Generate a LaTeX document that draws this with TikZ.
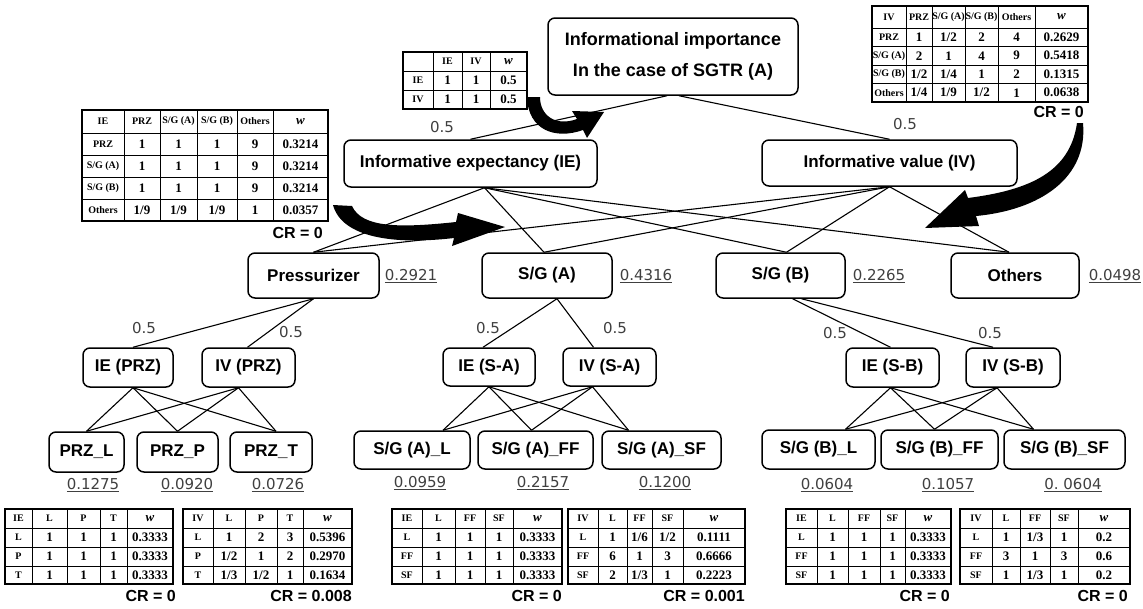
\documentclass[tikz,border=0pt]{standalone}
\usepackage{fontspec}
\newfontfamily\lsans{Liberation Sans}
\newfontfamily\lserif{Liberation Serif}
\newfontfamily\dvs{DejaVu Sans}
\newcommand\hd{\fontsize{10}{10}\selectfont}
\newcommand\trow[3]{\foreach \cx/\ct [count=\ck] in {#3} {\node[tcell] (#1-\ck) at (\cx,#2) {\ct};}}
\begin{document}
\begin{tikzpicture}[x=1pt,y=-1pt,
  box/.style 2 args={draw, line width=1.5pt, rounded corners=7pt, font=\lsans\bfseries\fontsize{17}{20}\selectfont, inner sep=0pt, align=center, minimum width=#1, minimum height=#2},
  edge/.style={line width=1.1pt},
  wt/.style={font=\dvs\fontsize{15}{15}\selectfont, text=black!75, inner sep=0pt},
  tcell/.style={font=\lserif\bfseries\fontsize{13}{13}\selectfont, inner sep=0pt},
  tin/.style={line width=0.8pt},
  tout/.style={line width=2.8pt},
  cr/.style={font=\lsans\bfseries\fontsize{16}{16}\selectfont, inner sep=0pt, anchor=east},
  blk/.style={fill=black}]
\useasboundingbox (0,0) rectangle (1143,608);
\fill[white] (0,0) rectangle (1143,608);

% ---------- curved arrows ----------
\fill[blk] (527,97) .. controls (528,130) and (555,140) .. (583,130) -- (587,138) -- (604,112) -- (572,111) -- (577,119) .. controls (555,127) and (540,115) .. (540,97) -- cycle;
\fill[blk] (333,205) .. controls (342,238) and (395,245) .. (454,238) -- (452,246) -- (505,227) -- (458,213) -- (456,222) .. controls (400,228) and (362,228) .. (352,206) -- cycle;
\fill[blk] (1077,123) -- (1083,123) .. controls (1088,178) and (1040,210) .. (976,216) -- (979,226) -- (925,228) -- (965,190) -- (968,198) .. controls (1030,190) and (1070,172) .. (1077,123) -- cycle;

% ---------- nodes ----------
\node[box={250pt}{77pt}, font=\lsans\bfseries\fontsize{18}{31}\selectfont] (root) at (673,56.5) {Informational importance\\In the case of SGTR (A)};
\node[box={253pt}{47pt}] (ie) at (470.5,163.5) {Informative expectancy (IE)};
\node[box={255pt}{46pt}] (iv) at (889.5,163) {Informative value (IV)};

\node[box={131pt}{45pt}] (prz) at (313.5,275.5) {Pressurizer};
\node[box={130pt}{45pt}] (sga) at (547,275.5) {S/G (A)};
\node[box={129pt}{45pt}] (sgb) at (780.5,275.5) {S/G (B)};
\node[box={128pt}{45pt}] (oth) at (1015,275.5) {Others};

\node[box={90pt}{39pt}] (iep) at (128,367.5) {IE (PRZ)};
\node[box={93pt}{39pt}] (ivp) at (248.5,367.5) {IV (PRZ)};
\node[box={92pt}{38pt}] (ies) at (489,367) {IE (S-A)};
\node[box={93pt}{38pt}] (ivs) at (609.5,367) {IV (S-A)};
\node[box={93pt}{39pt}] (ieb) at (892.5,367.5) {IE (S-B)};
\node[box={94pt}{39pt}] (ivb) at (1013,367.5) {IV (S-B)};

\node[box={75pt}{40pt}] (prl) at (86.5,452) {PRZ\_L};
\node[box={81pt}{40pt}] (prp) at (177.5,452) {PRZ\_P};
\node[box={82pt}{40pt}] (prt) at (271,452) {PRZ\_T};
\node[box={116pt}{38pt}] (sal) at (412,450) {S/G (A)\_L};
\node[box={115pt}{38pt}] (saf) at (535.5,450) {S/G (A)\_FF};
\node[box={119pt}{38pt}] (sas) at (661.5,450) {S/G (A)\_SF};
\node[box={113pt}{39pt}] (sbl) at (818.5,449.5) {S/G (B)\_L};
\node[box={117pt}{39pt}] (sbf) at (939.5,449.5) {S/G (B)\_FF};
\node[box={121pt}{39pt}] (sbs) at (1064.5,449.5) {S/G (B)\_SF};

% ---------- connectors ----------
\draw[edge] ([xshift=-6pt]root.south) -- (ie.north);
\draw[edge] ([xshift=6pt]root.south) -- (iv.north);
\foreach \n/\s in {prz/0pt, sga/-3pt, sgb/6pt, oth/-6pt} {
  \draw[edge] ([xshift=14pt]ie.south) -- ([xshift=\s]\n.north);
  \draw[edge] (iv.south) -- ([xshift=\s]\n.north);
}
\draw[edge] (prz.south) -- ([xshift=5pt]iep.north);
\draw[edge] (prz.south) -- ([xshift=-1pt]ivp.north);
\draw[edge] ([xshift=10pt]sga.south) -- ([xshift=-6pt]ies.north);
\draw[edge] ([xshift=10pt]sga.south) -- ([xshift=-16pt]ivs.north);
\draw[edge] ([xshift=12pt]sgb.south) -- ([xshift=-2pt]ieb.north);
\draw[edge] ([xshift=21pt]sgb.south) -- ([xshift=-20pt]ivb.north);
\foreach \c/\s in {prl/0pt, prp/0pt, prt/5pt} {
  \draw[edge] ([xshift=5pt]iep.south) -- ([xshift=\s]\c.north);
  \draw[edge] ([xshift=-10pt]ivp.south) -- ([xshift=\s]\c.north);
}
\foreach \c/\s in {sal/31pt, saf/-4pt, sas/-33pt} {
  \draw[edge] (ies.south) -- ([xshift=\s]\c.north);
  \draw[edge] ([xshift=-17pt]ivs.south) -- ([xshift=\s]\c.north);
}
\foreach \c/\s in {sbl/27pt, sbf/-5pt, sbs/-31pt} {
  \draw[edge] ([xshift=-2pt]ieb.south) -- ([xshift=\s]\c.north);
  \draw[edge] ([xshift=-16pt]ivb.south) -- ([xshift=\s]\c.north);
}

% ---------- weights ----------
\node[wt] (h1) at (442,127) {0.5};
\node[wt] (h2) at (905,124) {0.5};
\node[wt] (h3) at (144,328) {0.5};
\node[wt] (h4) at (291,332) {0.5};
\node[wt] (h5) at (488,328) {0.5};
\node[wt] (h6) at (615,328) {0.5};
\node[wt] (h7) at (835,333) {0.5};
\node[wt] (h8) at (990,333) {0.5};

\node[wt] (w1) at (411,276) {\underline{0.2921}};
\node[wt] (w2) at (646,276) {\underline{0.4316}};
\node[wt] (w3) at (879,276) {\underline{0.2265}};
\node[wt] (w4) at (1115,276) {\underline{0.0498}};
\node[wt] (w5) at (93,485) {\underline{0.1275}};
\node[wt] (w6) at (187,485) {\underline{0.0920}};
\node[wt] (w7) at (278,485) {\underline{0.0726}};
\node[wt] (w8) at (420,483) {\underline{0.0959}};
\node[wt] (w9) at (543,483) {\underline{0.2157}};
\node[wt] (w10) at (665,483) {\underline{0.1200}};
\node[wt] (w11) at (827,485) {\underline{0.0604}};
\node[wt] (w12) at (948,485) {\underline{0.1057}};
\node[wt] (w13) at (1073,485) {\underline{0.\ 0604}};

% ---------- table IE-IV (top) ----------
\draw[tin] \foreach \x in {433,462,490}{(\x,52) -- (\x,109)} \foreach \y in {71,90}{(403,\y) -- (527,\y)};
\draw[tout] (403,52) rectangle (527,109);
\trow{ta0}{61.5}{447.5/{\hd IE},476/{\hd IV},508.5/{\itshape w}}
\trow{ta1}{80.5}{418/{\hd IE},447.5/1,476/1,508.5/0.5}
\trow{ta2}{99.5}{418/{\hd IV},447.5/1,476/1,508.5/0.5}

% ---------- table IE (left) ----------
\draw[tin] \foreach \x in {124,160,197,237,273}{(\x,110) -- (\x,221)} \foreach \y in {133,155,177,199}{(82,\y) -- (328,\y)};
\draw[tout] (82,110) rectangle (328,221);
\trow{tb0}{121.5}{103/{\hd IE},142/{\hd PRZ},178.5/{\hd S/G (A)},217/{\hd S/G (B)},255/{\hd Others},300.5/{\itshape w}}
\trow{tb1}{144}{103/{\hd PRZ},142/1,178.5/1,217/1,255/9,300.5/0.3214}
\trow{tb2}{166}{103/{\hd S/G (A)},142/1,178.5/1,217/1,255/9,300.5/0.3214}
\trow{tb3}{188}{103/{\hd S/G (B)},142/1,178.5/1,217/1,255/9,300.5/0.3214}
\trow{tb4}{210}{103/{\hd Others},142/{1/9},178.5/{1/9},217/{1/9},255/1,300.5/0.0357}
\node[cr] (crb) at (323,233) {CR = 0};

% ---------- table IV (top right) ----------
\draw[tin] \foreach \x in {906,932,965,998,1035}{(\x,6) -- (\x,102)} \foreach \y in {28,46.5,65,83.5}{(872,\y) -- (1088,\y)};
\draw[tout] (872,6) rectangle (1088,102);
\trow{tc0}{17}{889/{\hd IV},919/{\hd PRZ},948.5/{\hd S/G (A)},981.5/{\hd S/G (B)},1016.5/{\hd Others},1061.5/{\itshape w}}
\trow{tc1}{37.25}{889/{\hd PRZ},919/1,948.5/{1/2},981.5/2,1016.5/4,1061.5/0.2629}
\trow{tc2}{55.75}{889/{\hd S/G (A)},919/2,948.5/1,981.5/4,1016.5/9,1061.5/0.5418}
\trow{tc3}{74.25}{889/{\hd S/G (B)},919/{1/2},948.5/{1/4},981.5/1,1016.5/2,1061.5/0.1315}
\trow{tc4}{92.75}{889/{\hd Others},919/{1/4},948.5/{1/9},981.5/{1/2},1016.5/1,1061.5/0.0638}
\node[cr] (crc) at (1084,112) {CR = 0};

% ---------- bottom tables ----------
% T1
\draw[tin] \foreach \x in {32,67,100,127}{(\x,509) -- (\x,584)} \foreach \y in {528,547,566}{(5,\y) -- (173,\y)};
\draw[tout] (5,509) rectangle (173,584);
\trow{t1r0}{518.5}{18.5/{\hd IE},49.5/{\hd L},83.5/{\hd P},113.5/{\hd T},150/{\itshape w}}
\trow{t1r1}{537.5}{18.5/{\hd L},49.5/1,83.5/1,113.5/1,150/0.3333}
\trow{t1r2}{556.5}{18.5/{\hd P},49.5/1,83.5/1,113.5/1,150/0.3333}
\trow{t1r3}{575}{18.5/{\hd T},49.5/1,83.5/1,113.5/1,150/0.3333}
\node[cr] (cr1) at (176,596) {CR = 0};
% T2
\draw[tin] \foreach \x in {213,245,277,303}{(\x,509) -- (\x,584)} \foreach \y in {528,547,566}{(183,\y) -- (352,\y)};
\draw[tout] (183,509) rectangle (352,584);
\trow{t2r0}{518.5}{198/{\hd IV},229/{\hd L},261/{\hd P},290/{\hd T},327.5/{\itshape w}}
\trow{t2r1}{537.5}{198/{\hd L},229/1,261/2,290/3,327.5/0.5396}
\trow{t2r2}{556.5}{198/{\hd P},229/{1/2},261/1,290/2,327.5/0.2970}
\trow{t2r3}{575}{198/{\hd T},229/{1/3},261/{1/2},290/1,327.5/0.1634}
\node[cr] (cr2) at (352,596) {CR = 0.008};
% T3
\draw[tin] \foreach \x in {422,455,485,513}{(\x,509) -- (\x,584)} \foreach \y in {528,547,566}{(392,\y) -- (562,\y)};
\draw[tout] (392,509) rectangle (562,584);
\trow{t3r0}{518.5}{407/{\hd IE},438.5/{\hd L},470/{\hd FF},499/{\hd SF},537.5/{\itshape w}}
\trow{t3r1}{537.5}{407/{\hd L},438.5/1,470/1,499/1,537.5/0.3333}
\trow{t3r2}{556.5}{407/{\hd FF},438.5/1,470/1,499/1,537.5/0.3333}
\trow{t3r3}{575}{407/{\hd SF},438.5/1,470/1,499/1,537.5/0.3333}
\node[cr] (cr3) at (562,596) {CR = 0};
% T4
\draw[tin] \foreach \x in {598,627,652,683}{(\x,509) -- (\x,584)} \foreach \y in {528,547,566}{(568,\y) -- (745,\y)};
\draw[tout] (568,509) rectangle (745,584);
\trow{t4r0}{518.5}{583/{\hd IV},612.5/{\hd L},639.5/{\hd FF},667.5/{\hd SF},714/{\itshape w}}
\trow{t4r1}{537.5}{583/{\hd L},612.5/1,639.5/{1/6},667.5/{1/2},714/0.1111}
\trow{t4r2}{556.5}{583/{\hd FF},612.5/6,639.5/1,667.5/3,714/0.6666}
\trow{t4r3}{575}{583/{\hd SF},612.5/2,639.5/{1/3},667.5/1,714/0.2223}
\node[cr] (cr4) at (745,596) {CR = 0.001};
% T5
\draw[tin] \foreach \x in {817,848,880,905}{(\x,509) -- (\x,584)} \foreach \y in {528,547,566}{(786,\y) -- (951,\y)};
\draw[tout] (786,509) rectangle (951,584);
\trow{t5r0}{518.5}{801.5/{\hd IE},832.5/{\hd L},864/{\hd FF},892.5/{\hd SF},928/{\itshape w}}
\trow{t5r1}{537.5}{801.5/{\hd L},832.5/1,864/1,892.5/1,928/0.3333}
\trow{t5r2}{556.5}{801.5/{\hd FF},832.5/1,864/1,892.5/1,928/0.3333}
\trow{t5r3}{575}{801.5/{\hd SF},832.5/1,864/1,892.5/1,928/0.3333}
\node[cr] (cr5) at (950,596) {CR = 0};
% T6
\draw[tin] \foreach \x in {992,1020,1050,1078}{(\x,509) -- (\x,584)} \foreach \y in {528,547,566}{(960,\y) -- (1130,\y)};
\draw[tout] (960,509) rectangle (1130,584);
\trow{t6r0}{518.5}{976/{\hd IV},1006/{\hd L},1035/{\hd FF},1064/{\hd SF},1104/{\itshape w}}
\trow{t6r1}{537.5}{976/{\hd L},1006/1,1035/{1/3},1064/1,1104/0.2}
\trow{t6r2}{556.5}{976/{\hd FF},1006/3,1035/1,1064/3,1104/0.6}
\trow{t6r3}{575}{976/{\hd SF},1006/1,1035/{1/3},1064/1,1104/0.2}
\node[cr] (cr6) at (1128,596) {CR = 0};
\end{tikzpicture}
\end{document}
